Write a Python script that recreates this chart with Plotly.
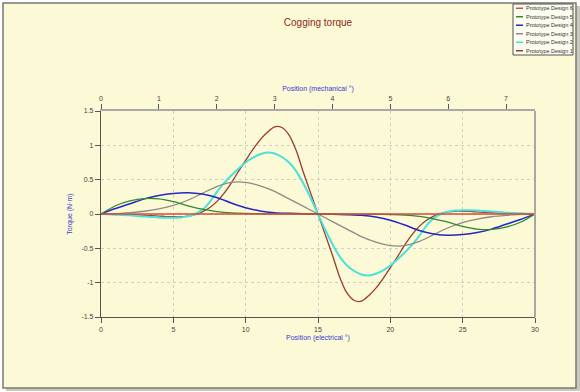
import plotly.graph_objects as go

# ---------------- data ----------------
position_fine = [i * 0.5 for i in range(61)]      # electrical degrees, 0..30 step 0.5
position_coarse = list(range(0, 31))              # electrical degrees, 0..30 step 1

design_1 = [0, -0.002, -0.005, -0.008, -0.01, -0.015, -0.02, -0.025, -0.03, -0.037, -0.04, -0.04, -0.03,
            -0.01, 0.03, 0.09, 0.18, 0.3, 0.45, 0.62, 0.78, 0.94, 1.08, 1.19, 1.27, 1.26, 1.15, 0.92, 0.6,
            0.3, 0,
            -0.3, -0.6, -0.92, -1.15, -1.26, -1.27, -1.19, -1.08, -0.94, -0.78, -0.62, -0.45, -0.3, -0.18,
            -0.09, -0.03, 0.01, 0.03, 0.04, 0.04, 0.037, 0.03, 0.025, 0.02, 0.015, 0.01, 0.008, 0.005,
            0.002, 0]
design_2 = [0, -0.005, -0.01, -0.015, -0.02, -0.028, -0.035, -0.042, -0.05, -0.054, -0.055, -0.05, -0.035,
            0.0, 0.06, 0.17, 0.32, 0.45, 0.56, 0.66, 0.75, 0.82, 0.87, 0.895, 0.88, 0.83, 0.75, 0.62, 0.44,
            0.23, 0,
            -0.23, -0.44, -0.62, -0.75, -0.83, -0.88, -0.895, -0.87, -0.82, -0.75, -0.66, -0.56, -0.45,
            -0.32, -0.17, -0.06, 0.0, 0.035, 0.05, 0.055, 0.054, 0.05, 0.042, 0.035, 0.028, 0.02, 0.015,
            0.01, 0.005, 0]
design_3 = [0, 0.005, 0.02, 0.04, 0.075, 0.125, 0.2, 0.3, 0.4, 0.46, 0.46, 0.41, 0.33, 0.22, 0.11, 0,
            -0.11, -0.22, -0.33, -0.41, -0.46, -0.46, -0.4, -0.3, -0.2, -0.125, -0.075, -0.04, -0.02,
            -0.005, 0]
design_4 = [0, 0.08, 0.15, 0.22, 0.27, 0.3, 0.31, 0.29, 0.24, 0.16, 0.09, 0.045, 0.02, 0.01, 0.004, 0,
            -0.004, -0.01, -0.02, -0.045, -0.09, -0.16, -0.24, -0.29, -0.31, -0.3, -0.27, -0.22, -0.15,
            -0.08, 0]
design_5 = [0, 0.12, 0.19, 0.225, 0.22, 0.18, 0.12, 0.07, 0.035, 0.015, 0.008, 0.004, 0.002, 0.001, 0, 0,
            0, -0.001, -0.002, -0.004, -0.008, -0.015, -0.035, -0.07, -0.12, -0.18, -0.22, -0.225, -0.19,
            -0.12, 0]
design_6 = [0] * 31

series_names = ["Prototype Design 1", "Prototype Design 2", "Prototype Design 3",
                "Prototype Design 4", "Prototype Design 5", "Prototype Design 6"]
series_x = [position_fine, position_fine, position_coarse, position_coarse, position_coarse, position_coarse]
series_values = [design_1, design_2, design_3, design_4, design_5, design_6]
series_colors = ["#9b3b32", "#48e2dc", "#8f8a84", "#2626c4", "#2f8a2f", "#d84a3a"]
series_widths = [1.3, 2.0, 1.3, 1.5, 1.3, 1.3]

y_ticks = [-1.5, -1, -0.5, 0, 0.5, 1, 1.5]
y_tick_labels = ["-1.5", "-1", "-0.5", "0", "0.5", "1", "1.5"]
x_ticks = [0, 5, 10, 15, 20, 25, 30]
mech_ticks = [0, 1, 2, 3, 4, 5, 6, 7]

# ---------------- layout geometry (pixels) ----------------
W, H = 580, 392
L, R, T, B = 101, 535, 111, 317
PW, PH = R - L, B - T


def px(xp):
    return (xp - L) / PW


def py(yp):
    return (B - yp) / PH


fig = go.Figure()
for name, xs, vals, col, w in zip(series_names, series_x, series_values, series_colors, series_widths):
    fig.add_trace(go.Scatter(x=xs, y=vals, name=name, mode="lines",
                             line=dict(color=col, width=w, shape="spline", smoothing=0.8),
                             showlegend=False, hoverinfo="x+y+name"))
# invisible trace to activate the top (mechanical) axis
fig.add_trace(go.Scatter(x=[0, 7.5], y=[0, 0], xaxis="x2", mode="lines",
                         line=dict(width=0), showlegend=False, hoverinfo="skip"))

FONT = "Liberation Sans, Arial, sans-serif"
tick_font = dict(family=FONT, size=7, color="#444444")
title_font = dict(family=FONT, size=7, color="#3a3ad0")

fig.update_layout(
    width=W, height=H,
    margin=dict(l=L, r=W - R, t=T, b=H - B),
    paper_bgcolor="#ffffff",
    plot_bgcolor="#fefde9",
    title=dict(text="Cogging torque", x=(L + R) / 2 / W, xanchor="center",
               y=1 - 22 / H, yanchor="middle", yref="container",
               font=dict(family=FONT, size=10, color="#8b2a1e")),
    xaxis=dict(range=[0, 30], tickvals=x_ticks, ticks="outside", ticklen=5, tickcolor="#555555",
               tickfont=tick_font, showgrid=True, gridcolor="#cfcfc6", griddash="dot", gridwidth=1,
               showline=True, linecolor="#555555", linewidth=1.2, zeroline=False,
               title=dict(text="Position (electrical °)", font=title_font, standoff=3),
               fixedrange=True),
    xaxis2=dict(range=[0, 7.5], overlaying="x", side="top", tickvals=mech_ticks, ticks="outside",
                ticklen=5, tickcolor="#555555", tickfont=tick_font, showgrid=False,
                showline=True, linecolor="#a8a8a8", linewidth=2, zeroline=False,
                title=dict(text="Position (mechanical °)", font=title_font, standoff=3)),
    yaxis=dict(range=[-1.5, 1.5], tickvals=y_ticks, ticktext=y_tick_labels, ticks="outside",
               ticklen=5, tickcolor="#555555", tickfont=tick_font, showgrid=True,
               gridcolor="#cfcfc6", griddash="dot", gridwidth=1, showline=True,
               linecolor="#555555", linewidth=1.2, zeroline=False,
               title=dict(text="Torque (N·m)", font=title_font, standoff=7)),
    showlegend=False,
)

shapes = []
# drop shadow and outer frame
shapes.append(dict(type="rect", xref="paper", yref="paper", layer="below",
                   x0=px(6), x1=px(580), y0=py(391), y1=py(6),
                   fillcolor="#c9c9c0", line=dict(width=0)))
shapes.append(dict(type="rect", xref="paper", yref="paper", layer="below",
                   x0=px(3), x1=px(576), y0=py(388), y1=py(3),
                   fillcolor="#fbf9d6", line=dict(color="#7a7a72", width=1.5)))
# right frame line
shapes.append(dict(type="line", xref="paper", yref="paper", x0=1, x1=1, y0=0, y1=1,
                   line=dict(color="#a8a8a8", width=2)))

# custom compact legend (Design 6 on top)
lg_x0, lg_x1, lg_y0, lg_y1 = 513, 573, 4, 55
shapes.append(dict(type="rect", xref="paper", yref="paper",
                   x0=px(lg_x0), x1=px(lg_x1), y0=py(lg_y1), y1=py(lg_y0),
                   fillcolor="#fdfdf0", line=dict(color="#555555", width=1)))
annotations = []
row_h = (lg_y1 - lg_y0) / 6
for i, (name, col) in enumerate(reversed(list(zip(series_names, series_colors)))):
    yc = lg_y0 + row_h * (i + 0.5)
    shapes.append(dict(type="line", xref="paper", yref="paper",
                       x0=px(516), x1=px(523), y0=py(yc), y1=py(yc),
                       line=dict(color=col, width=1.5)))
    annotations.append(dict(xref="paper", yref="paper", x=px(524), y=py(yc),
                            text=name, showarrow=False, xanchor="left", yanchor="middle",
                            font=dict(family=FONT, size=5.5, color="#333333")))

fig.update_layout(shapes=shapes, annotations=annotations)
fig.write_html("out.html",
               config={"displayModeBar": False},
               post_script="document.body.style.margin='0';document.body.style.padding='0';")
